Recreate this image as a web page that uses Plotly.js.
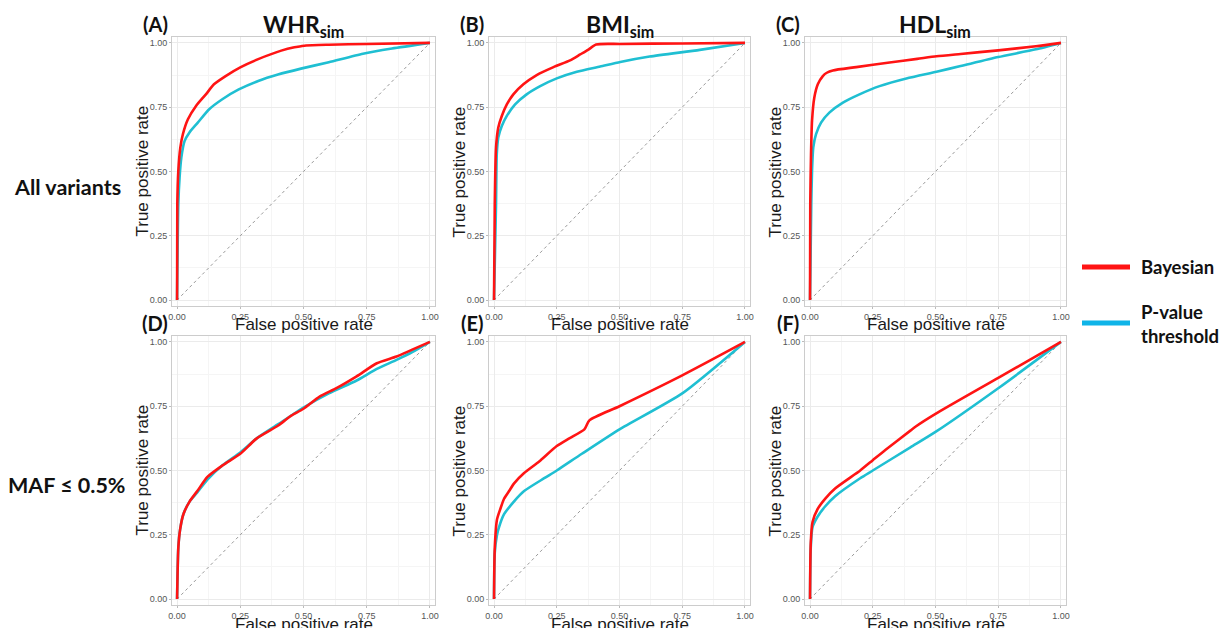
<!DOCTYPE html>
<html>
<head>
<meta charset="utf-8">
<script src="https://cdn.plot.ly/plotly-3.0.1.min.js"></script>
<style>html,body{margin:0;padding:0;background:#fff;}#chart{width:1222px;height:628px;}</style>
</head>
<body>
<div id="chart"></div>
<script>
// ---- Data ----
const panelLetters = ["(A)", "(B)", "(C)", "(D)", "(E)", "(F)"];
const traitTitles = ["WHR<sub>sim</sub>", "BMI<sub>sim</sub>", "HDL<sub>sim</sub>"];
const rowLabels = ["All variants", "MAF ≤ 0.5%"];
const seriesNames = ["Bayesian", "P-value<br>threshold"];
const tickVals = [0, 0.25, 0.5, 0.75, 1];
const tickText = ["0.00", "0.25", "0.50", "0.75", "1.00"];
const diagX = [0, 1];
const diagY = [0, 1];

// (A) WHR, all variants
const fprA_bayes = [0, 0.001, 0.005, 0.013, 0.023, 0.043, 0.075, 0.114, 0.146, 0.192, 0.25, 0.321, 0.412, 0.464, 0.49, 0.51, 0.6, 0.75, 1];
const tprA_bayes = [0, 0.374, 0.503, 0.594, 0.645, 0.703, 0.755, 0.8, 0.839, 0.871, 0.905, 0.937, 0.97, 0.983, 0.987, 0.99, 0.993, 0.996, 1];
const fprA_pval = [0, 0.005, 0.01, 0.017, 0.03, 0.049, 0.082, 0.127, 0.179, 0.244, 0.321, 0.399, 0.49, 0.6, 0.735, 0.85, 1];
const tprA_pval = [0, 0.374, 0.477, 0.555, 0.619, 0.652, 0.69, 0.742, 0.781, 0.819, 0.852, 0.877, 0.9, 0.925, 0.958, 0.978, 1];

// (B) BMI, all variants
const fprB_bayes = [0, 0.003, 0.008, 0.017, 0.031, 0.051, 0.077, 0.117, 0.17, 0.237, 0.303, 0.343, 0.376, 0.407, 0.503, 0.75, 1];
const tprB_bayes = [0, 0.374, 0.594, 0.671, 0.716, 0.761, 0.8, 0.839, 0.875, 0.906, 0.932, 0.955, 0.974, 0.994, 0.996, 0.998, 1];
const fprB_pval = [0, 0.008, 0.011, 0.017, 0.031, 0.051, 0.084, 0.13, 0.184, 0.25, 0.33, 0.423, 0.503, 0.62, 0.82, 1];
const tprB_pval = [0, 0.374, 0.568, 0.632, 0.677, 0.716, 0.761, 0.8, 0.832, 0.862, 0.888, 0.908, 0.926, 0.947, 0.973, 1];

// (C) HDL, all variants
const fprC_bayes = [0, 0.001, 0.004, 0.008, 0.017, 0.031, 0.051, 0.067, 0.091, 0.184, 0.317, 0.427, 0.504, 0.6, 0.75, 0.9, 1];
const tprC_bayes = [0, 0.374, 0.568, 0.697, 0.787, 0.839, 0.871, 0.884, 0.893, 0.906, 0.924, 0.938, 0.948, 0.957, 0.971, 0.987, 1];
const fprC_pval = [0, 0.005, 0.008, 0.013, 0.024, 0.044, 0.077, 0.131, 0.197, 0.277, 0.384, 0.504, 0.6, 0.75, 0.9, 1];
const tprC_pval = [0, 0.374, 0.503, 0.594, 0.645, 0.69, 0.729, 0.768, 0.8, 0.832, 0.862, 0.888, 0.91, 0.945, 0.975, 1];

// (D) WHR, MAF <= 0.5%
const fprD_bayes = [0, 0.002, 0.005, 0.012, 0.025, 0.05, 0.08, 0.12, 0.18, 0.25, 0.315, 0.4, 0.447, 0.5, 0.565, 0.63, 0.71, 0.79, 0.868, 0.93, 1];
const tprD_bayes = [0, 0.1, 0.2, 0.27, 0.33, 0.38, 0.42, 0.475, 0.52, 0.565, 0.625, 0.675, 0.71, 0.74, 0.788, 0.82, 0.866, 0.917, 0.943, 0.97, 1];
const fprD_pval = [0, 0.002, 0.005, 0.012, 0.025, 0.05, 0.08, 0.12, 0.18, 0.25, 0.315, 0.4, 0.5, 0.6, 0.71, 0.79, 0.868, 0.93, 1];
const tprD_pval = [0, 0.1, 0.2, 0.27, 0.33, 0.38, 0.415, 0.465, 0.52, 0.57, 0.625, 0.68, 0.745, 0.8, 0.85, 0.895, 0.93, 0.96, 1];

// (E) BMI, MAF <= 0.5%
const fprE_bayes = [0, 0.003, 0.012, 0.025, 0.04, 0.06, 0.08, 0.12, 0.18, 0.25, 0.3, 0.36, 0.38, 0.5, 0.75, 1];
const tprE_bayes = [0, 0.2, 0.31, 0.35, 0.39, 0.42, 0.45, 0.49, 0.535, 0.595, 0.625, 0.66, 0.695, 0.75, 0.87, 1];
const fprE_pval = [0, 0.003, 0.012, 0.02, 0.04, 0.08, 0.12, 0.2, 0.25, 0.35, 0.5, 0.75, 1];
const tprE_pval = [0, 0.18, 0.25, 0.28, 0.33, 0.38, 0.42, 0.47, 0.5, 0.565, 0.66, 0.8, 1];

// (F) HDL, MAF <= 0.5%
const fprF_bayes = [0, 0.003, 0.01, 0.03, 0.06, 0.1, 0.2, 0.25, 0.3, 0.4, 0.42, 0.5, 0.75, 1];
const tprF_bayes = [0, 0.22, 0.3, 0.35, 0.39, 0.43, 0.5, 0.54, 0.58, 0.655, 0.67, 0.72, 0.86, 1];
const fprF_pval = [0, 0.003, 0.01, 0.03, 0.06, 0.1, 0.2, 0.25, 0.4, 0.5, 0.75, 1];
const tprF_pval = [0, 0.2, 0.28, 0.32, 0.36, 0.4, 0.47, 0.5, 0.59, 0.65, 0.82, 1];

const bayesX = [fprA_bayes, fprB_bayes, fprC_bayes, fprD_bayes, fprE_bayes, fprF_bayes];
const bayesY = [tprA_bayes, tprB_bayes, tprC_bayes, tprD_bayes, tprE_bayes, tprF_bayes];
const pvalX = [fprA_pval, fprB_pval, fprC_pval, fprD_pval, fprE_pval, fprF_pval];
const pvalY = [tprA_pval, tprB_pval, tprC_pval, tprD_pval, tprE_pval, tprF_pval];

// ---- Styling ----
const W = 1222, H = 628;
const RED = "#ff1414";
const BLUE = "#1fbfd2";
const BOLD_FONT = "Lato, 'Open Sans', sans-serif";
const SANS = "'Liberation Sans', Arial, sans-serif";
const px = v => v / W;
const py = v => 1 - v / H;

const colPx = [[172, 435], [489, 750], [805, 1066]];
const rowPx = [[37, 306], [336, 605]];
const xTitleOffset = [18, 19];
const colCenter = [303, 620, 935];

const traces = [];
const layout = {
  width: W, height: H,
  margin: {l: 0, r: 0, t: 0, b: 0},
  paper_bgcolor: "#fff", plot_bgcolor: "#fff",
  showlegend: false,
  annotations: [], shapes: []
};

for (let i = 0; i < 6; i++) {
  const r = Math.floor(i / 3), c = i % 3;
  const n = i + 1;
  const xa = "x" + (n === 1 ? "" : n), ya = "y" + (n === 1 ? "" : n);
  const axBase = {
    showline: true, mirror: true, linecolor: "#cccccc", linewidth: 1,
    showgrid: true, gridcolor: "#ebebeb", gridwidth: 1, zeroline: false,
    tickmode: "array", tickvals: tickVals, ticktext: tickText,
    ticks: "outside", ticklen: 2, tickcolor: "#bbbbbb",
    tickfont: {family: SANS, size: 9, color: "#555"},
    minor: {tickmode: "array", tickvals: [0.125, 0.375, 0.625, 0.875], showgrid: true, gridcolor: "#f5f5f5", ticks: ""},
    fixedrange: true
  };
  layout["xaxis" + (n === 1 ? "" : n)] = Object.assign({}, axBase, {
    domain: [px(colPx[c][0]), px(colPx[c][1])],
    range: [-0.02, 1.02], anchor: ya
  });
  layout["yaxis" + (n === 1 ? "" : n)] = Object.assign({}, axBase, {
    domain: [py(rowPx[r][1]), py(rowPx[r][0])],
    range: [-0.023, 1.023], anchor: xa
  });

  traces.push({x: diagX, y: diagY, xaxis: xa, yaxis: ya, mode: "lines",
    line: {color: "#9a9a9a", width: 1, dash: "dot"}, hoverinfo: "skip"});
  traces.push({x: pvalX[i], y: pvalY[i], xaxis: xa, yaxis: ya, mode: "lines",
    name: seriesNames[1], line: {color: BLUE, width: 2.6, shape: "spline", smoothing: 0.6}});
  traces.push({x: bayesX[i], y: bayesY[i], xaxis: xa, yaxis: ya, mode: "lines",
    name: seriesNames[0], line: {color: RED, width: 2.6, shape: "spline", smoothing: 0.6}});

  // axis titles
  const xCenter = (colPx[c][0] + colPx[c][1]) / 2;
  const yCenter = (rowPx[r][0] + rowPx[r][1]) / 2;
  layout.annotations.push({text: "False positive rate", xref: "paper", yref: "paper",
    x: px(xCenter), y: py(rowPx[r][1] + xTitleOffset[r]), xanchor: "center", yanchor: "middle",
    borderpad: 0, showarrow: false, font: {family: SANS, size: 17, color: "#1a1a1a"}});
  layout.annotations.push({text: "True positive rate", xref: "paper", yref: "paper",
    x: px(colPx[c][0] - 30), y: py(yCenter), xanchor: "center", yanchor: "middle",
    textangle: -90, borderpad: 0, showarrow: false, font: {family: SANS, size: 17, color: "#1a1a1a"}});
  // panel letters
  layout.annotations.push({text: "<b>" + panelLetters[i] + "</b>", xref: "paper", yref: "paper",
    x: px(colPx[c][0] - 17), y: py(rowPx[r][0] - 13), xanchor: "center", yanchor: "middle",
    showarrow: false, font: {family: BOLD_FONT, size: 20, color: "#111"}});
}

// trait titles
for (let c = 0; c < 3; c++) {
  layout.annotations.push({text: "<b>" + traitTitles[c] + "</b>", xref: "paper", yref: "paper",
    x: px(colCenter[c]), y: py(25), xanchor: "center", yanchor: "middle",
    showarrow: false, font: {family: BOLD_FONT, size: 23, color: "#111"}});
}
// row labels
const rowLabelY = [187, 485];
for (let r = 0; r < 2; r++) {
  layout.annotations.push({text: "<b>" + rowLabels[r] + "</b>", xref: "paper", yref: "paper",
    x: px(67), y: py(rowLabelY[r]), xanchor: "center", yanchor: "middle",
    showarrow: false, font: {family: BOLD_FONT, size: 21.5, color: "#111"}});
}
// legend
layout.shapes.push({type: "line", xref: "paper", yref: "paper",
  x0: px(1082), x1: px(1130), y0: py(267), y1: py(267), line: {color: RED, width: 5}});
layout.shapes.push({type: "line", xref: "paper", yref: "paper",
  x0: px(1082), x1: px(1130), y0: py(323), y1: py(323), line: {color: "#0fb4e8", width: 5}});
layout.annotations.push({text: "<b>" + seriesNames[0] + "</b>", xref: "paper", yref: "paper",
  x: px(1139), y: py(267), xanchor: "left", yanchor: "middle", showarrow: false,
  font: {family: BOLD_FONT, size: 18.5, color: "#111"}});
layout.annotations.push({text: "<b>" + seriesNames[1] + "</b>", xref: "paper", yref: "paper",
  x: px(1139), y: py(324), xanchor: "left", yanchor: "middle", showarrow: false, align: "left",
  font: {family: BOLD_FONT, size: 18.5, color: "#111"}});

Plotly.newPlot("chart", traces, layout, {displayModeBar: false, staticPlot: true});
</script>
</body>
</html>
